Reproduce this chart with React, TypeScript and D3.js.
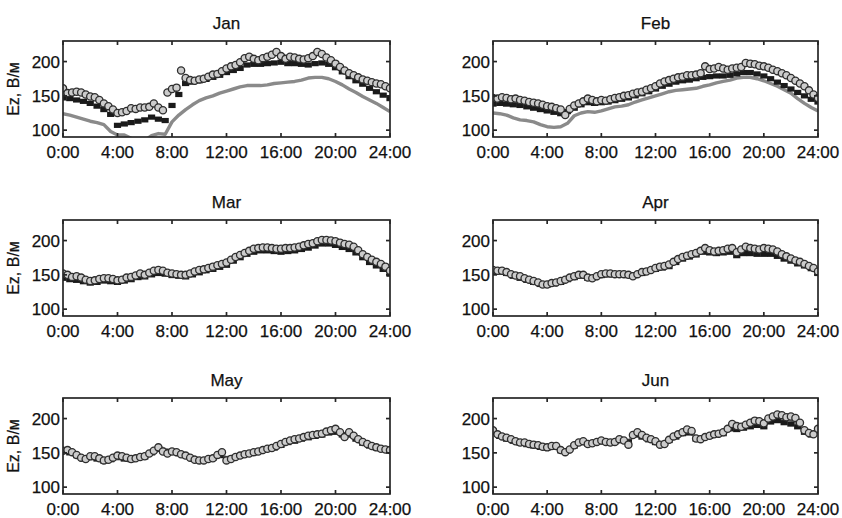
import React from 'react';
import * as d3 from 'd3';

const MONTHS = ['Jan', 'Feb', 'Mar', 'Apr', 'May', 'Jun'];
const X_TICKS = [0, 4, 8, 12, 16, 20, 24];
const X_TICK_LABELS = ['0:00', '4:00', '8:00', '12:00', '16:00', '20:00', '24:00'];
const Y_TICKS = [100, 150, 200];
const Y_LABEL = 'Ez, В/м';
const Y_DOMAIN = [90, 230];

// time grids (hours): circles every 20 min, squares / gray line every 30 min
const T20 = d3.range(73).map((i) => i / 3);
const T30 = d3.range(49).map((i) => i / 2);

const JAN_CIRCLES = [
  161, 154, 155, 156, 155, 152, 149, 148, 144, 139, 135, 130,
  125, 126, 128, 132, 131, 133, 133, 134, 139, 133, 129, 155,
  160, 162, 187, 176, 173, 172, 174, 175, 178, 181, 182, 186,
  190, 193, 195, 199, 205, 207, 204, 202, 205, 207, 210, 214,
  208, 204, 207, 206, 204, 203, 205, 208, 214, 211, 206, 202,
  197, 192, 187, 183, 180, 177, 174, 172, 170, 168, 167, 164, 161,
];
const JAN_BLACK = [
  147, 146, 144, 142, 139, 135, 130, 123, 107, 109, 111, 113,
  115, 119, 116, 114, 136, 152, 168, 170, 172, 174, 177, 180,
  184, 187, 190, 195, 196, 196, 197, 198, 199, 197, 197, 196,
  195, 197, 198, 196, 191, 185, 178, 172, 167, 161, 156, 151, 146,
];
const JAN_GRAY = [
  124, 122, 119, 116, 113, 111, 108, 98, 93, 93, 88, 85,
  85, 92, 95, 94, 112, 122, 130, 137, 143, 147, 150, 154,
  157, 160, 163, 165, 165, 165, 166, 168, 169, 170, 171, 173,
  176, 177, 177, 175, 171, 166, 160, 155, 149, 144, 139, 133, 127,
];

const FEB_CIRCLES = [
  147, 146, 148, 147, 145, 146, 144, 143, 141, 140, 139, 137,
  135, 134, 132, 130, 122, 131, 136, 139, 142, 146, 144, 142,
  144, 143, 145, 147, 148, 150, 151, 153, 155, 156, 159, 161,
  164, 168, 171, 173, 175, 177, 178, 180, 180, 181, 183, 193,
  189, 190, 192, 190, 188, 190, 191, 192, 198, 197, 196, 194,
  193, 191, 188, 186, 183, 180, 176, 172, 168, 164, 158, 152, 147,
];
const FEB_BLACK = [
  138, 139, 138, 137, 136, 134, 132, 130, 128, 126, 124, 127,
  132, 137, 140, 139, 140, 141, 143, 145, 147, 150, 153, 156,
  160, 164, 167, 170, 172, 173, 175, 177, 178, 179, 179, 180,
  182, 184, 184, 182, 179, 175, 170, 165, 160, 155, 150, 145, 141,
];
const FEB_GRAY = [
  125, 124, 122, 118, 115, 114, 112, 108, 105, 104, 105, 110,
  121, 125, 127, 126, 128, 131, 134, 135, 137, 141, 144, 147,
  150, 153, 156, 158, 159, 160, 161, 164, 166, 169, 171, 173,
  176, 177, 177, 175, 172, 168, 164, 159, 154, 146, 139, 133, 128,
];

const MAR_CIRCLES = [
  152, 150, 147, 148, 146, 143, 141, 142, 144, 145, 145, 144,
  142, 143, 146, 147, 149, 152, 150, 153, 156, 157, 156, 153,
  152, 151, 150, 150, 152, 155, 157, 158, 160, 162, 164, 166,
  168, 172, 176, 179, 182, 185, 188, 189, 190, 190, 189, 188,
  188, 189, 189, 190, 191, 193, 195, 196, 199, 201, 201, 200,
  199, 197, 195, 194, 191, 186, 180, 176, 172, 169, 166, 162, 156,
];
const MAR_BLACK = [
  145, 143, 142, 140, 138, 139, 141, 140, 139, 141, 143, 146,
  147, 150, 152, 151, 149, 148, 147, 150, 153, 156, 158, 161,
  164, 170, 175, 180, 183, 185, 185, 184, 183, 184, 185, 187,
  189, 192, 195, 195, 193, 190, 187, 182, 175, 168, 163, 158, 151,
];
const MAR_GRAY = [
  148, 146, 145, 142, 140, 141, 143, 142, 141, 143, 145, 148,
  149, 152, 155, 153, 151, 149, 149, 152, 155, 158, 160, 163,
  166, 172, 177, 182, 185, 187, 187, 186, 185, 186, 187, 189,
  191, 194, 197, 197, 195, 192, 189, 184, 177, 170, 165, 160, 153,
];

const APR_CIRCLES = [
  157, 156, 156, 154, 151, 149, 148, 145, 143, 141, 139, 136,
  136, 138, 139, 141, 143, 146, 148, 150, 150, 146, 145, 148,
  151, 152, 152, 151, 151, 151, 150, 148, 151, 154, 155, 157,
  160, 162, 163, 165, 169, 173, 176, 178, 180, 182, 185, 189,
  186, 184, 185, 186, 188, 189, 183, 187, 191, 189, 188, 187,
  189, 188, 187, 184, 180, 177, 174, 171, 169, 166, 163, 160, 155,
];
const APR_BLACK = [
  155, 154, 152, 148, 145, 142, 139, 136, 135, 137, 139, 143,
  146, 148, 145, 146, 149, 150, 150, 150, 149, 150, 152, 155,
  158, 160, 162, 168, 173, 176, 179, 183, 182, 181, 182, 183,
  178, 181, 181, 180, 180, 180, 177, 173, 170, 166, 163, 159, 152,
];
const APR_GRAY = [
  156, 155, 153, 149, 146, 143, 140, 137, 136, 138, 140, 144,
  147, 149, 146, 147, 150, 151, 151, 151, 150, 151, 153, 156,
  159, 161, 164, 170, 175, 178, 181, 185, 184, 183, 184, 186,
  181, 185, 185, 184, 185, 184, 181, 176, 172, 168, 165, 161, 154,
];

const MAY_CIRCLES = [
  153, 154, 151, 147, 143, 141, 145, 145, 142, 139, 140, 143,
  146, 145, 143, 141, 142, 144, 145, 149, 153, 158, 152, 149,
  152, 151, 148, 146, 143, 140, 139, 139, 141, 142, 147, 151,
  139, 141, 144, 146, 148, 149, 151, 152, 154, 156, 157, 160,
  163, 166, 168, 170, 171, 173, 175, 176, 177, 178, 181, 183,
  185, 180, 173, 180, 175, 170, 166, 163, 160, 158, 156, 155, 154,
];
const MAY_BLACK = [
  152, 150, 146, 141, 143, 141, 138, 140, 143, 141, 140, 142,
  144, 150, 155, 152, 151, 149, 146, 142, 139, 140, 142, 146,
  141, 143, 146, 148, 150, 152, 155, 157, 161, 165, 167, 170,
  172, 174, 176, 179, 180, 176, 176, 170, 164, 160, 157, 155, 153,
];
const MAY_GRAY = [
  153, 152, 147, 142, 145, 143, 140, 141, 145, 143, 141, 143,
  146, 153, 159, 155, 153, 151, 148, 144, 141, 141, 143, 148,
  143, 145, 148, 150, 152, 154, 157, 159, 163, 167, 169, 172,
  174, 176, 178, 181, 182, 178, 178, 172, 166, 162, 159, 157, 155,
];

const JUN_CIRCLES = [
  183, 177, 174, 172, 170, 167, 165, 165, 163, 162, 161, 159,
  158, 160, 160, 154, 151, 155, 161, 165, 167, 163, 164, 166,
  168, 166, 165, 166, 170, 168, 162, 176, 180, 176, 172, 170,
  167, 162, 163, 169, 174, 177, 180, 184, 182, 171, 170, 173,
  175, 177, 178, 180, 185, 192, 189, 188, 191, 194, 197, 196,
  193, 200, 203, 206, 205, 202, 203, 201, 194, 183, 179, 177, 185,
];
const JUN_BLACK = [
  180, 174, 170, 167, 164, 162, 160, 158, 157, 158, 153, 153,
  160, 165, 163, 164, 166, 165, 166, 168, 166, 176, 173, 169,
  165, 163, 168, 173, 178, 179, 170, 172, 174, 176, 178, 185,
  184, 186, 188, 190, 188, 195, 197, 194, 192, 188, 180, 176, 182,
];
const JUN_GRAY = [
  182, 176, 172, 169, 166, 164, 162, 160, 159, 160, 155, 154,
  162, 167, 164, 165, 167, 166, 167, 170, 167, 178, 175, 171,
  167, 164, 170, 175, 180, 182, 172, 173, 176, 178, 180, 188,
  187, 189, 192, 194, 192, 199, 201, 199, 198, 193, 182, 178, 184,
];

const CIRCLES = [JAN_CIRCLES, FEB_CIRCLES, MAR_CIRCLES, APR_CIRCLES, MAY_CIRCLES, JUN_CIRCLES];
const BLACKS = [JAN_BLACK, FEB_BLACK, MAR_BLACK, APR_BLACK, MAY_BLACK, JUN_BLACK];
const GRAYS = [JAN_GRAY, FEB_GRAY, MAR_GRAY, APR_GRAY, MAY_GRAY, JUN_GRAY];

const W = 842;
const H = 518;
const COL_LEFT = [63, 493];
const COL_WIDTH = [327, 325];
const ROW_TOP = [41, 220, 398];
const PANEL_H = 96;
const FONT = '"Liberation Sans", Arial, Helvetica, sans-serif';
const TEXT_COLOR = '#111111';
const FRAME_COLOR = '#262626';
const FS = 17;

function Panel({ idx }: { idx: number }) {
  const col = idx % 2;
  const row = Math.floor(idx / 2);
  const left = COL_LEFT[col];
  const top = ROW_TOP[row];
  const width = COL_WIDTH[col];
  const x = d3.scaleLinear().domain([0, 24]).range([0, width]);
  const y = d3.scaleLinear().domain(Y_DOMAIN).range([PANEL_H, 0]);
  const clipId = `clip-${idx}`;

  const grayData = T30.map((t, i) => [t, GRAYS[idx][i]] as [number, number]);
  const blackData = T30.map((t, i) => [t, BLACKS[idx][i]] as [number, number]);
  const circData = T20.map((t, i) => [t, CIRCLES[idx][i]] as [number, number]);

  const line = d3
    .line<[number, number]>()
    .x((d) => x(d[0]))
    .y((d) => y(d[1]));

  const sqW = 7.2;
  const sqH = 5.2;
  const tickLen = 4;

  return (
    <g transform={`translate(${left},${top})`}>
      <defs>
        <clipPath id={clipId}>
          <rect x={0} y={0} width={width} height={PANEL_H} />
        </clipPath>
      </defs>
      <text
        x={width / 2}
        y={-12}
        textAnchor="middle"
        fontFamily={FONT}
        fontSize={FS}
        fill={TEXT_COLOR}
        stroke={TEXT_COLOR}
        strokeWidth={0.25}
      >
        {MONTHS[idx]}
      </text>
      <g clipPath={`url(#${clipId})`}>
        <path d={line(grayData) || ''} fill="none" stroke="#8a8a8a" strokeWidth={3.4} strokeLinejoin="round" />
        {blackData.map((d, i) => (
          <rect
            key={`b${i}`}
            x={x(d[0]) - sqW / 2}
            y={y(d[1]) - sqH / 2}
            width={sqW}
            height={sqH}
            fill="#1a1a1a"
          />
        ))}
        {circData.map((d, i) => (
          <circle
            key={`c${i}`}
            cx={x(d[0])}
            cy={y(d[1])}
            r={3.6}
            fill="#cccccc"
            stroke="#2e2e2e"
            strokeWidth={1.3}
          />
        ))}
      </g>
      {/* frame */}
      <rect x={0} y={0} width={width} height={PANEL_H} fill="none" stroke={FRAME_COLOR} strokeWidth={1.7} />
      {X_TICKS.map((t, i) => (
        <g key={`xt${i}`}>
          <line x1={x(t)} x2={x(t)} y1={PANEL_H} y2={PANEL_H - tickLen} stroke={FRAME_COLOR} strokeWidth={1.7} />
          <line x1={x(t)} x2={x(t)} y1={0} y2={tickLen} stroke={FRAME_COLOR} strokeWidth={1.7} />
          <text
            x={x(t)}
            y={PANEL_H + 21}
            textAnchor="middle"
            fontFamily={FONT}
            fontSize={FS}
            fill={TEXT_COLOR}
            stroke={TEXT_COLOR}
            strokeWidth={0.25}
          >
            {X_TICK_LABELS[i]}
          </text>
        </g>
      ))}
      {Y_TICKS.map((v, i) => (
        <g key={`yt${i}`}>
          <line x1={0} x2={tickLen} y1={y(v)} y2={y(v)} stroke={FRAME_COLOR} strokeWidth={1.7} />
          <line x1={width} x2={width - tickLen} y1={y(v)} y2={y(v)} stroke={FRAME_COLOR} strokeWidth={1.7} />
          <text
            x={-3}
            y={y(v)}
            dy="0.36em"
            textAnchor="end"
            fontFamily={FONT}
            fontSize={FS}
            fill={TEXT_COLOR}
            stroke={TEXT_COLOR}
            strokeWidth={0.25}
          >
            {v}
          </text>
        </g>
      ))}
      {col === 0 && (
        <text
          transform={`translate(${13 - left},${PANEL_H / 2}) rotate(-90)`}
          textAnchor="middle"
          dy="0.36em"
          fontFamily={FONT}
          fontSize={16}
          fill={TEXT_COLOR}
          stroke={TEXT_COLOR}
          strokeWidth={0.25}
        >
          {Y_LABEL}
        </text>
      )}
    </g>
  );
}

export default function App() {
  return (
    <svg
      width={W}
      height={H}
      viewBox={`0 0 ${W} ${H}`}
      style={{ position: 'absolute', left: 0, top: 0, background: '#ffffff' }}
    >
      <rect x={0} y={0} width={W} height={H} fill="#ffffff" />
      {MONTHS.map((m, i) => (
        <Panel key={m} idx={i} />
      ))}
    </svg>
  );
}
